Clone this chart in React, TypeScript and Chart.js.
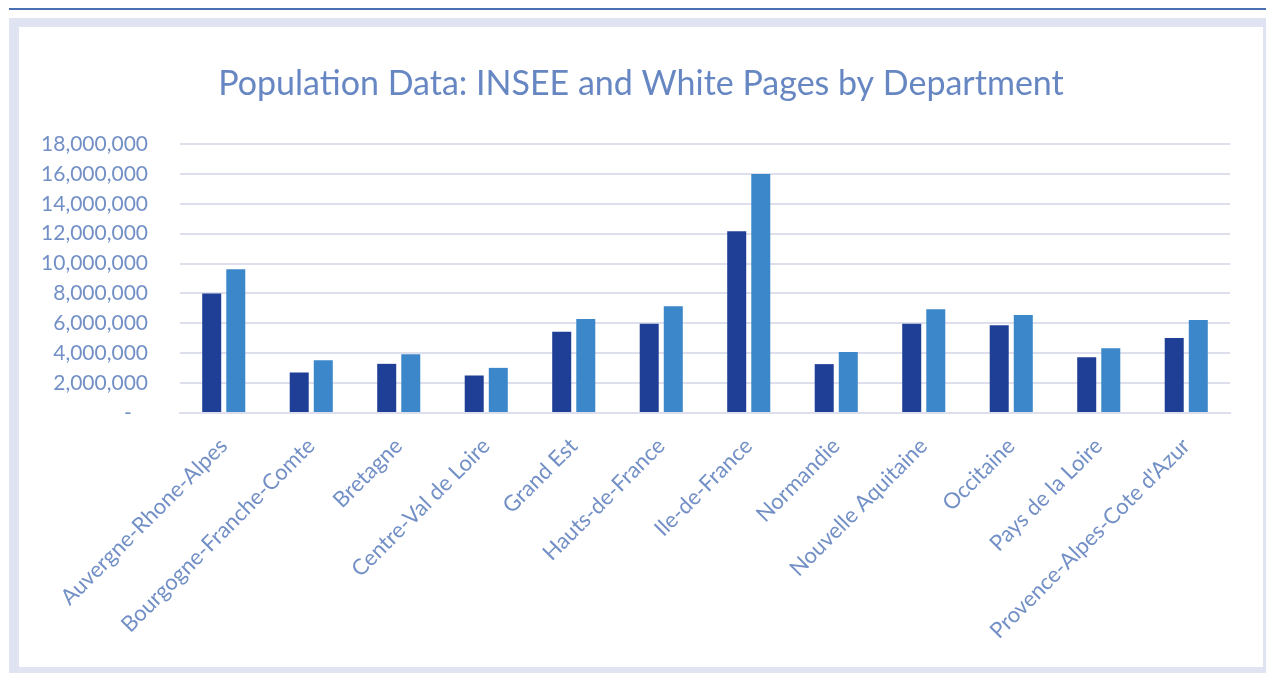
import React, { useEffect, useRef } from "react";
import { Chart, registerables } from "chart.js";

Chart.register(...registerables);

const chartTitle = "Population Data: INSEE and White Pages by Department";

const departments = [
  "Auvergne-Rhone-Alpes",
  "Bourgogne-Franche-Comte",
  "Bretagne",
  "Centre-Val de Loire",
  "Grand Est",
  "Hauts-de-France",
  "Ile-de-France",
  "Normandie",
  "Nouvelle Aquitaine",
  "Occitaine",
  "Pays de la Loire",
  "Provence-Alpes-Cote d'Azur",
];

const inseePopulation = [
  8000000, 2710000, 3290000, 2510000, 5440000, 5970000, 12170000, 3270000,
  5970000, 5870000, 3730000, 5020000,
];

const whitePagesPopulation = [
  9620000, 3530000, 3930000, 3020000, 6290000, 7150000, 16000000, 4090000,
  6950000, 6550000, 4330000, 6220000,
];

const yMin = 0;
const yMax = 18000000;
const yStep = 2000000;

const TEXT = "#7390c6";
const TITLE = "#6787c3";
const DARK = "#1f3f96";
const LIGHT = "#3b87c9";
const GRID = "#dde0ec";

const centeredTitle = {
  id: "centeredTitle",
  afterDraw(chart: any) {
    const ctx = chart.ctx;
    ctx.save();
    ctx.font = "normal 34px Lato";
    ctx.fillStyle = TITLE;
    ctx.textAlign = "center";
    ctx.textBaseline = "middle";
    ctx.fillText(chartTitle, chart.width / 2, 57);
    ctx.restore();
  },
};

export default function App() {
  const ref = useRef<HTMLCanvasElement | null>(null);

  useEffect(() => {
    if (!ref.current) return;
    const chart = new Chart(ref.current, {
      type: "bar",
      data: {
        labels: departments,
        datasets: [
          {
            label: "INSEE",
            data: inseePopulation,
            backgroundColor: DARK,
            barPercentage: 0.79,
            categoryPercentage: 0.55,
          },
          {
            label: "White Pages",
            data: whitePagesPopulation,
            backgroundColor: LIGHT,
            barPercentage: 0.79,
            categoryPercentage: 0.55,
          },
        ],
      },
      plugins: [centeredTitle],
      options: {
        responsive: false,
        animation: false,
        devicePixelRatio: 1,
        layout: { padding: { top: 117, right: 33, bottom: 0, left: 0 } },
        plugins: {
          legend: { display: false },
          tooltip: { enabled: false },
          title: { display: false },
        },
        scales: {
          x: {
            grid: { display: false, drawTicks: false },
            border: { display: true, color: GRID, width: 2 },
            ticks: {
              color: TEXT,
              font: { family: "Lato", size: 22 },
              minRotation: 45,
              maxRotation: 45,
              padding: 20,
              autoSkip: false,
            },
            afterFit: (scale: any) => {
              scale.height = 254;
            },
          },
          y: {
            min: yMin,
            max: yMax,
            grid: { color: GRID, lineWidth: 2, drawTicks: false },
            border: { display: false },
            ticks: {
              stepSize: yStep,
              color: TEXT,
              font: { family: "Lato", size: 21 },
              padding: 32,
              callback: (v: any) =>
                Number(v) === 0 ? "-   " : Number(v).toLocaleString("en-US"),
            },
            afterFit: (scale: any) => {
              scale.width = 161;
            },
          },
        },
      },
    });
    return () => chart.destroy();
  }, []);

  return (
    <div
      style={{
        position: "fixed",
        left: 0,
        top: 0,
        width: 1266,
        height: 673,
        overflow: "hidden",
        background: "#ffffff",
      }}
    >
      <div
        style={{
          position: "absolute",
          left: 9,
          top: 8,
          width: 1257,
          height: 2,
          background: "#4a70b2",
        }}
      />
      <div
        style={{
          position: "absolute",
          left: 9,
          top: 18,
          width: 1257,
          height: 655,
          background: "#e0e4f2",
        }}
      >
        <div
          style={{
            position: "absolute",
            left: 10,
            top: 9,
            width: 1244,
            height: 640,
            background: "#ffffff",
          }}
        >
          <canvas ref={ref} width={1244} height={640} style={{ display: "block" }} />
        </div>
      </div>
    </div>
  );
}
